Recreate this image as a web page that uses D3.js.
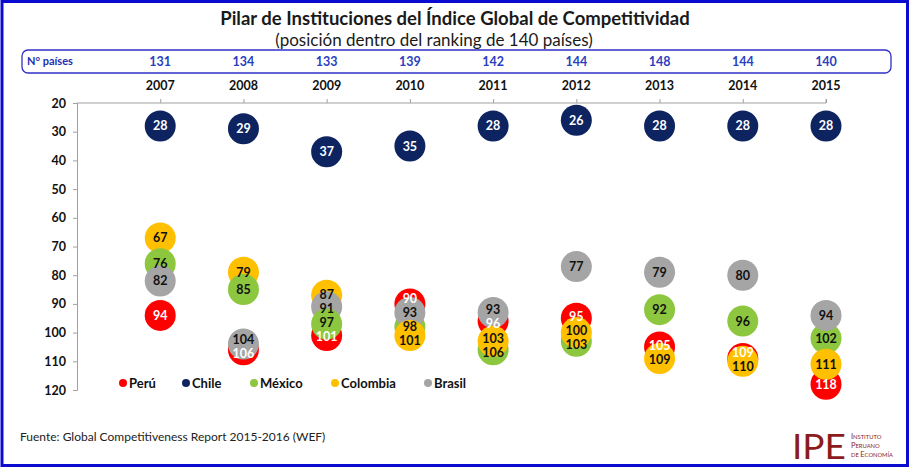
<!DOCTYPE html>
<html><head><meta charset="utf-8">
<script src="https://cdn.jsdelivr.net/npm/d3@7"></script>
<style>body{margin:0;background:#fff}svg{display:block}text{font-family:Lato,"Open Sans",sans-serif}</style>
</head><body><svg id="c" width="911" height="468"></svg>
<script>
const years = [2007,2008,2009,2010,2011,2012,2013,2014,2015];
const nPaises = [131,134,133,139,142,144,148,144,140];
const yTicks = [20,30,40,50,60,70,80,90,100,110,120];
const peru     = [94,106,101,90,96,95,105,109,118];
const chile    = [28,29,37,35,28,26,28,28,28];
const mexico   = [76,85,97,98,106,103,92,96,102];
const colombia = [67,79,87,101,103,100,109,110,111];
const brasil   = [82,104,91,93,93,77,79,80,94];
const seriesNames = ["Perú","Chile","México","Colombia","Brasil"];
const seriesColors = ["#ff0000","#0e2461","#8dc63f","#ffc000","#a5a5a5"];
const labelColors = ["#ffffff","#ffffff","#111111","#111111","#111111"];
const seriesValues = [peru,chile,mexico,colombia,brasil];
const baseLayers = [0,1];      // Perú, Chile always at the back
const upperLayers = [2,4,3];   // México, Brasil, Colombia

const svg = d3.select("#c");
svg.append("rect").attr("x",2).attr("y",1.5).attr("width",905.5).attr("height",464)
  .attr("fill","none").attr("stroke","#0a0ad0").attr("stroke-width",3);

svg.append("text").attr("x",455).attr("y",25).attr("text-anchor","middle")
  .attr("font-size",18.5).attr("font-weight","bold").attr("fill","#1a1a1a")
  .text("Pilar de Instituciones del Índice Global de Competitividad");
svg.append("text").attr("x",434).attr("y",46).attr("text-anchor","middle")
  .attr("font-size",17).attr("fill","#1a1a1a")
  .text("(posición dentro del ranking de 140 países)");

const x = d3.scaleLinear().domain([2006,2015]).range([77,826]);
const y = d3.scaleLinear().domain([20,120]).range([103,390]);

svg.append("rect").attr("x",22).attr("y",50).attr("width",869).attr("height",23).attr("rx",6)
  .attr("fill","none").attr("stroke","#3030c8").attr("stroke-width",1.3);
svg.append("text").attr("x",27).attr("y",65).attr("font-size",11).attr("font-weight","bold")
  .attr("fill","#1c2fb0").text("N° países");
svg.selectAll("text.np").data(years).join("text").attr("class","np")
  .attr("x",d=>x(d)).attr("y",66).attr("text-anchor","middle").attr("font-size",12.5)
  .attr("font-weight","bold").attr("fill","#2a3fc0").text((d,i)=>nPaises[i]);

svg.selectAll("text.yr").data(years).join("text").attr("class","yr")
  .attr("x",d=>x(d)).attr("y",90).attr("text-anchor","middle").attr("font-size",12.5)
  .attr("font-weight","bold").attr("fill","#111").text(d=>d);

const xAxis = d3.axisTop(x).tickValues(years).tickSize(4).tickFormat("");
const gx = svg.append("g").attr("transform",`translate(0,${y(20)})`).call(xAxis);
gx.select(".domain").attr("stroke","#a0a0a0").attr("d",`M${x(2006)},0H${x(2015)}V-4`);
gx.selectAll(".tick line").attr("stroke","#a0a0a0");
const yAxis = d3.axisLeft(y).tickValues(yTicks).tickSize(4).tickPadding(7);
const gy = svg.append("g").attr("transform",`translate(${x(2006)},0)`).call(yAxis);
gy.select(".domain").attr("stroke","#a0a0a0");
gy.selectAll(".tick line").attr("stroke","#a0a0a0");
gy.selectAll(".tick text").attr("font-size",12.5).attr("font-weight","bold").attr("fill","#111")
  .attr("font-family","Lato,sans-serif");

const r = 15.5;
const pts = [];
years.forEach((yr,i)=>{
  const mk = si=>({si, year:yr, v:seriesValues[si][i]});
  const base = baseLayers.map(mk);
  const up = upperLayers.map(mk);
  if(yr<=2009) up.sort((a,b)=>a.v-b.v);
  pts.push(...base, ...up);
});
svg.append("g").selectAll("circle").data(pts).join("circle")
  .attr("cx",d=>x(d.year)).attr("cy",d=>y(d.v)).attr("r",r)
  .attr("fill",d=>seriesColors[d.si]);

const labs = pts.map(d=>({...d, ly:y(d.v)}));
const minGap = 14;
years.forEach(yr=>{
  const grp = labs.filter(d=>d.year===yr).sort((a,b)=>a.ly-b.ly);
  for(let it=0;it<30;it++){
    for(let k=1;k<grp.length;k++){
      const g = grp[k].ly-grp[k-1].ly;
      if(g<minGap){ const s=(minGap-g)/2; grp[k].ly+=s; grp[k-1].ly-=s; }
    }
  }
});
svg.append("g").selectAll("text").data(labs).join("text")
  .attr("x",d=>x(d.year)).attr("y",d=>d.ly+4.5).attr("text-anchor","middle")
  .attr("font-size",12.5).attr("font-weight","bold")
  .attr("fill",d=>labelColors[d.si]).text(d=>d.v);

const legX = [123,186,254,335,428];
const lg = svg.append("g");
seriesNames.forEach((n,i)=>{
  lg.append("circle").attr("cx",legX[i]).attr("cy",383).attr("r",4).attr("fill",seriesColors[i]);
  lg.append("text").attr("x",legX[i]+6).attr("y",387.5).attr("font-size",13)
    .attr("font-weight","bold").attr("fill","#111").text(n);
});

svg.append("text").attr("x",20).attr("y",441).attr("font-size",12).attr("fill","#222")
  .text("Fuente: Global Competitiveness Report 2015-2016 (WEF)");

const lgo = svg.append("g");
lgo.append("text").attr("x",792).attr("y",459).attr("font-family","'Liberation Serif',serif")
  .attr("font-size",34).attr("fill","#8c1c1c").attr("textLength",54)
  .attr("lengthAdjust","spacingAndGlyphs").text("IPE");
[["I","NSTITUTO",438.5],["P","ERUANO",447.5]].forEach(p=>{
  const t = lgo.append("text").attr("x",851).attr("y",p[2]).attr("font-family","'Liberation Serif',serif").attr("fill","#8c1c1c");
  t.append("tspan").attr("font-size",7.5).text(p[0]);
  t.append("tspan").attr("font-size",5.8).text(p[1]);
});
const t3 = lgo.append("text").attr("x",851).attr("y",456.5).attr("font-family","'Liberation Serif',serif").attr("fill","#8c1c1c");
t3.append("tspan").attr("font-size",5.8).text("DE ");
t3.append("tspan").attr("font-size",7.5).text("E");
t3.append("tspan").attr("font-size",5.8).text("CONOMÍA");
</script></body></html>
